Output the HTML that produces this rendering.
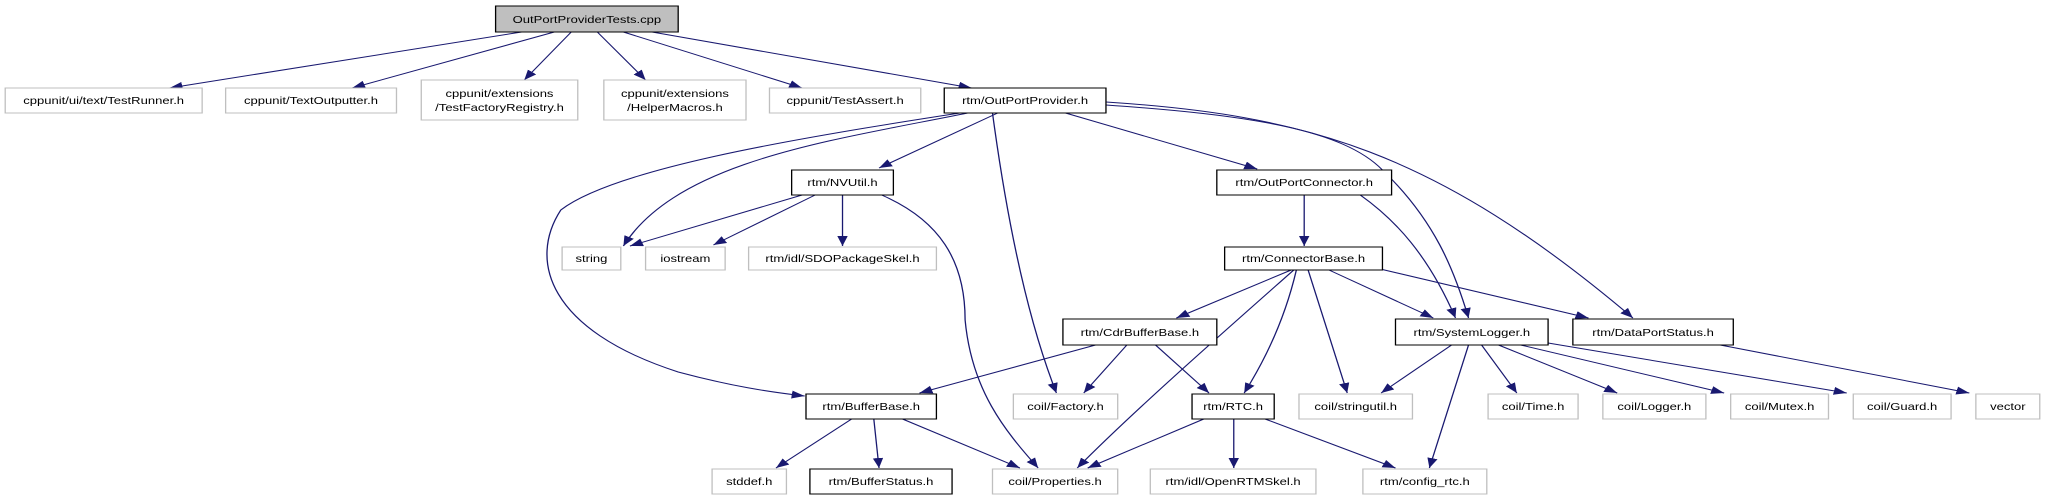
<!DOCTYPE html>
<html><head><meta charset="utf-8"><style>
html,body{margin:0;padding:0;background:#fff;}
svg{display:block;}
text{font-family:"Liberation Sans",sans-serif;font-size:10px;fill:#000;}
</style></head><body>
<svg width="2045" height="500" viewBox="0 0 2045 500" xmlns="http://www.w3.org/2000/svg">
<defs>
<marker id="a" markerUnits="userSpaceOnUse" markerWidth="12" markerHeight="10" refX="10" refY="4" orient="auto">
<path d="M0,0 L10,4 L0,8 z" fill="#191970"/>
</marker>
</defs>
<g transform="scale(1.3042,1)">
<g fill="none" stroke="#191970" stroke-width="1" marker-end="url(#a)">
<path d="M400,32 L130,88"/>
<path d="M425,32 L270,88"/>
<path d="M438,32 L402,80"/>
<path d="M458,32 L495,80"/>
<path d="M478,32 L615,88"/>
<path d="M500,32 L745,88"/>
<path d="M765,113 L674,168"/>
<path d="M742,113 C640,140 520,160 478,246"/>
<path d="M736,113 C600,140 470,170 430,210 C405,260 420,330 520,372 C560,386 590,392 617,396"/>
<path d="M761,113 C770,200 785,310 810,393"/>
<path d="M817,113 L964,169"/>
<path d="M848,105 C960,115 1030,130 1060,170 C1100,220 1115,270 1126,318"/>
<path d="M848,102 C1000,115 1100,150 1252,318"/>
<path d="M615,195 L483,246"/>
<path d="M625,195 L547,245"/>
<path d="M646,195 L646,246"/>
<path d="M676,195 C720,220 740,260 740,320 C745,390 770,430 796,468"/>
<path d="M1000,195 L1000,246"/>
<path d="M1043,195 C1070,220 1095,255 1116,318"/>
<path d="M990,270 L902,318"/>
<path d="M992,270 C940,330 870,410 826,468"/>
<path d="M994,270 C985,320 970,360 954,393"/>
<path d="M1003,270 L1033,393"/>
<path d="M1019,270 L1099,318"/>
<path d="M1055,268 L1218,318"/>
<path d="M840,345 L705,393"/>
<path d="M864,345 L831,393"/>
<path d="M886,345 L927,393"/>
<path d="M1113,345 L1059,393"/>
<path d="M1126,345 L1096,468"/>
<path d="M1136,345 L1163,393"/>
<path d="M1149,345 L1240,393"/>
<path d="M1166,345 L1322,393"/>
<path d="M1187,343 L1416,393"/>
<path d="M1319,345 L1510,393"/>
<path d="M653,419 L595,468"/>
<path d="M670,419 L674,468"/>
<path d="M692,419 L782,468"/>
<path d="M923,419 L834,468"/>
<path d="M946,419 L946,468"/>
<path d="M970,419 L1070,468"/>
</g>
<g stroke-width="1">
<rect x="380" y="6" width="140" height="26" fill="#bfbfbf" stroke="#000"/>
<g fill="#fff" stroke="#bfbfbf">
<rect x="4" y="88" width="151" height="25"/>
<rect x="173" y="88" width="131" height="25"/>
<rect x="323" y="80" width="120" height="40"/>
<rect x="463" y="80" width="109" height="40"/>
<rect x="590" y="88" width="116" height="25"/>
<rect x="431" y="247" width="45" height="23"/>
<rect x="495" y="247" width="61" height="23"/>
<rect x="574" y="247" width="144" height="23"/>
<rect x="777" y="394" width="80" height="25"/>
<rect x="996" y="394" width="87" height="25"/>
<rect x="1141" y="394" width="69" height="25"/>
<rect x="1229" y="394" width="79" height="25"/>
<rect x="1327" y="394" width="75" height="25"/>
<rect x="1421" y="394" width="75" height="25"/>
<rect x="1515" y="394" width="49" height="25"/>
<rect x="546" y="469" width="57" height="25"/>
<rect x="761" y="469" width="96" height="25"/>
<rect x="882" y="469" width="127" height="25"/>
<rect x="1045" y="469" width="95" height="25"/>
</g>
<g fill="#fff" stroke="#000">
<rect x="724" y="88" width="124" height="25"/>
<rect x="607" y="170" width="78" height="25"/>
<rect x="933" y="170" width="134" height="25"/>
<rect x="939" y="247" width="121" height="23"/>
<rect x="815" y="319" width="118" height="26"/>
<rect x="1070" y="319" width="117" height="26"/>
<rect x="1206" y="319" width="123" height="26"/>
<rect x="618" y="394" width="100" height="25"/>
<rect x="914" y="394" width="63" height="25"/>
<rect x="621" y="469" width="109" height="25"/>
</g>
</g>
<g text-anchor="middle">
<text x="450" y="23">OutPortProviderTests.cpp</text>
<text x="79.5" y="104">cppunit/ui/text/TestRunner.h</text>
<text x="238.5" y="104">cppunit/TextOutputter.h</text>
<text x="383" y="97">cppunit/extensions</text>
<text x="383" y="111">/TestFactoryRegistry.h</text>
<text x="517.5" y="97">cppunit/extensions</text>
<text x="517.5" y="111">/HelperMacros.h</text>
<text x="648" y="104">cppunit/TestAssert.h</text>
<text x="786" y="104">rtm/OutPortProvider.h</text>
<text x="646" y="186">rtm/NVUtil.h</text>
<text x="1000" y="186">rtm/OutPortConnector.h</text>
<text x="453.5" y="262">string</text>
<text x="525.5" y="262">iostream</text>
<text x="646" y="262">rtm/idl/SDOPackageSkel.h</text>
<text x="999.5" y="262">rtm/ConnectorBase.h</text>
<text x="874" y="336">rtm/CdrBufferBase.h</text>
<text x="1128.5" y="336">rtm/SystemLogger.h</text>
<text x="1267.5" y="336">rtm/DataPortStatus.h</text>
<text x="668" y="410">rtm/BufferBase.h</text>
<text x="817" y="410">coil/Factory.h</text>
<text x="945.5" y="410">rtm/RTC.h</text>
<text x="1039.5" y="410">coil/stringutil.h</text>
<text x="1175.5" y="410">coil/Time.h</text>
<text x="1268.5" y="410">coil/Logger.h</text>
<text x="1364.5" y="410">coil/Mutex.h</text>
<text x="1458.5" y="410">coil/Guard.h</text>
<text x="1539.5" y="410">vector</text>
<text x="574.5" y="485">stddef.h</text>
<text x="675.5" y="485">rtm/BufferStatus.h</text>
<text x="809" y="485">coil/Properties.h</text>
<text x="945.5" y="485">rtm/idl/OpenRTMSkel.h</text>
<text x="1092.5" y="485">rtm/config_rtc.h</text>
</g>
</g>
</svg>
</body></html>
